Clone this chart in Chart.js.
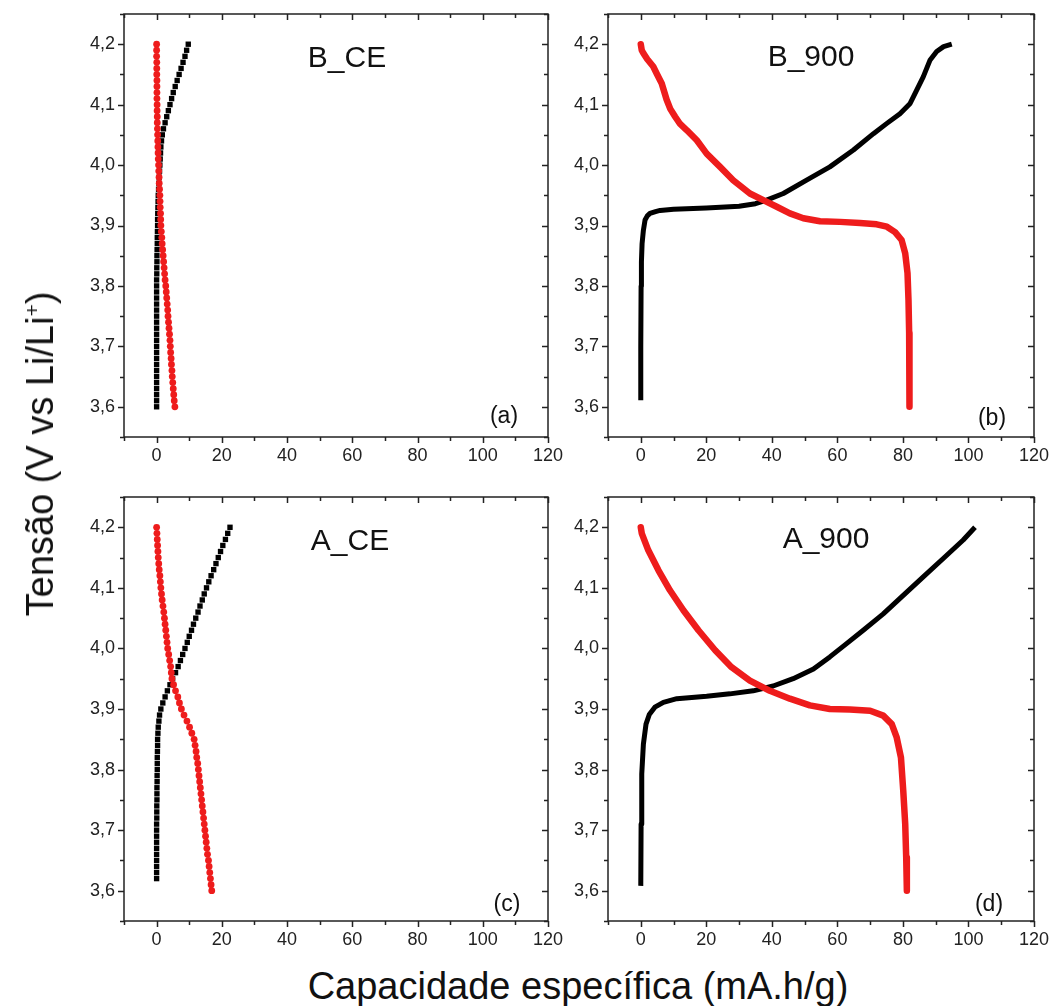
<!DOCTYPE html>
<html>
<head>
<meta charset="utf-8">
<script src="https://cdn.jsdelivr.net/npm/chart.js@4.4.1/dist/chart.umd.min.js"></script>
<style>
  body { margin: 0; width: 1053px; height: 1006px; position: relative; background: #fff; overflow: hidden;
         font-family: "Liberation Sans", Arial, sans-serif; color: #111; }
  canvas { position: absolute; }
  .txt { position: absolute; white-space: nowrap; line-height: 1; transform: translate(-50%, -50%); }
  .ttl { font-size: 30px; }
  .tag { font-size: 23px; }
  .axt { font-size: 38px; }
</style>
</head>
<body>
<canvas id="pa" width="506" height="477" style="left:60px;top:0px"></canvas>
<canvas id="pb" width="508" height="477" style="left:544px;top:0px"></canvas>
<canvas id="pc" width="506" height="478" style="left:60px;top:483px"></canvas>
<canvas id="pd" width="508" height="478" style="left:544px;top:483px"></canvas>

<div class="txt ttl" style="left:347px;top:57px">B_CE</div>
<div class="txt ttl" style="left:811px;top:56px">B_900</div>
<div class="txt ttl" style="left:350px;top:540px">A_CE</div>
<div class="txt ttl" style="left:826px;top:538px">A_900</div>
<div class="txt tag" style="left:504px;top:415px">(a)</div>
<div class="txt tag" style="left:992px;top:417px">(b)</div>
<div class="txt tag" style="left:507px;top:903px">(c)</div>
<div class="txt tag" style="left:989px;top:903px">(d)</div>
<div class="txt axt" style="left:40px;top:454px;transform:translate(-50%,-50%) rotate(-90deg)">Tensão (V vs Li/Li<sup style="font-size:0.55em">+</sup>)</div>
<div class="txt axt" style="left:578px;top:986px">Capacidade específica (mA.h/g)</div>

<script>
// --- Voltage steps used by the CE panels (V) ---
const vSteps = [4.20, 4.19, 4.18, 4.17, 4.16, 4.15, 4.14, 4.13, 4.12, 4.11,
                4.10, 4.09, 4.08, 4.07, 4.06, 4.05, 4.04, 4.03, 4.02, 4.01,
                4.00, 3.99, 3.98, 3.97, 3.96, 3.95, 3.94, 3.93, 3.92, 3.91,
                3.90, 3.89, 3.88, 3.87, 3.86, 3.85, 3.84, 3.83, 3.82, 3.81,
                3.80, 3.79, 3.78, 3.77, 3.76, 3.75, 3.74, 3.73, 3.72, 3.71,
                3.70, 3.69, 3.68, 3.67, 3.66, 3.65, 3.64, 3.63, 3.62, 3.61,
                3.60];

// --- (a) B_CE: capacity (mA.h/g) at each vStep ---
const bceCharge = [9.7, 9.2, 8.7, 8.1, 7.5, 6.9, 6.3, 5.7, 5.1, 4.6,
                   4.1, 3.6, 3.1, 2.6, 2.1, 1.75, 1.5, 1.3, 1.2, 1.1,
                   1.0, 0.9, 0.8, 0.7, 0.6, 0.5, 0.45, 0.4, 0.35, 0.3,
                   0.3, 0.25, 0.2, 0.2, 0.15, 0.1, 0.1, 0.05, 0.05,
                   0, 0, 0, 0, 0, 0, 0, 0, 0, 0, 0,
                   0, 0, 0, 0, 0, 0, 0, 0, 0, 0, 0, 0];
const bceDischarge = [0, 0, 0, 0.05, 0.05, 0.05, 0.1, 0.1, 0.1, 0.1,
                      0.15, 0.15, 0.2, 0.2, 0.25, 0.3, 0.35, 0.4, 0.45, 0.5,
                      0.6, 0.65, 0.75, 0.8, 0.9, 1.0, 1.05, 1.1, 1.2, 1.25,
                      1.3, 1.45, 1.6, 1.7, 1.85, 2.0, 2.15, 2.3, 2.45, 2.6,
                      2.8, 2.95, 3.1, 3.25, 3.4, 3.5, 3.65, 3.8, 3.95, 4.1,
                      4.2, 4.3, 4.45, 4.55, 4.7, 4.8, 4.95, 5.1, 5.25, 5.4,
                      5.6];

// --- (c) A_CE ---
const aceCharge = [22.5, 21.8, 21.1, 20.3, 19.6, 18.9, 18.2, 17.5, 16.7, 16.0,
                   15.3, 14.6, 14.0, 13.3, 12.7, 12.0, 11.3, 10.7, 10.0, 9.4,
                   8.7, 8.0, 7.3, 6.6, 5.8, 4.9, 4.1, 3.3, 2.6, 1.9,
                   1.3, 0.9, 0.7, 0.5, 0.4, 0.3, 0.3, 0.25, 0.2, 0.2,
                   0.2, 0.15, 0.15, 0.1, 0.1, 0.1, 0.05, 0.05, 0.05, 0,
                   0, 0, 0, 0, 0, 0, 0, 0, 0];
const aceDischarge = [0, 0.1, 0.2, 0.3, 0.4, 0.5, 0.65, 0.8, 1.0, 1.15,
                      1.3, 1.5, 1.7, 1.95, 2.2, 2.4, 2.6, 2.8, 3.0, 3.2,
                      3.4, 3.7, 4.0, 4.3, 4.5, 4.7, 5.2, 5.8, 6.5, 7.0,
                      7.6, 8.4, 9.3, 10.1, 10.8, 11.5, 11.8, 12.1, 12.3, 12.6,
                      12.8, 13.0, 13.2, 13.4, 13.6, 13.8, 14.0, 14.2, 14.4, 14.6,
                      14.8, 15.0, 15.2, 15.4, 15.6, 15.9, 16.1, 16.3, 16.5, 16.7,
                      16.9];

// --- (b) B_900 ---
const b900ChargeQ = [0, 0, 0.1, 0.2, 0.4, 0.8, 1.3, 2.0, 2.8, 4.5, 5.9, 10, 20, 30, 35, 38.4,
                     43.5, 50.6, 57.7, 64.9, 71.0, 75.1, 79.1, 82.2, 84.2, 86.2, 88.3, 90.3, 92.4, 94.9];
const b900ChargeV = [3.611, 3.70, 3.80, 3.84, 3.87, 3.892, 3.909, 3.916, 3.920, 3.923, 3.925, 3.927, 3.929, 3.932, 3.936, 3.942,
                     3.953, 3.975, 3.997, 4.025, 4.052, 4.069, 4.085, 4.102, 4.124, 4.146, 4.174, 4.188, 4.196, 4.200];
const b900DischQ = [0, 0.3, 0.8, 2.0, 3.8, 5.0, 6.4, 7.9, 9.0, 10.5, 12.0, 14.0, 17.1, 20.1, 24.2, 28.2, 33.3,
                    37.4, 41.5, 45.5, 49.6, 54.7, 60.8, 66.9, 72.0, 75.1, 77.6, 79.6, 80.7, 81.4, 81.7, 81.9, 82.0, 82.0];
const b900DischV = [4.200, 4.190, 4.185, 4.175, 4.163, 4.150, 4.135, 4.108, 4.093, 4.080, 4.068, 4.058, 4.041, 4.019, 3.997, 3.975, 3.953,
                    3.942, 3.931, 3.920, 3.912, 3.907, 3.906, 3.904, 3.902, 3.898, 3.889, 3.876, 3.854, 3.821, 3.777, 3.722, 3.667, 3.600];

// --- (d) A_900 ---
const a900ChargeQ = [0, 0.1, 0.3, 0.8, 1.6, 2.6, 4.3, 6.9, 11.0, 20.1, 27.2, 34.3, 40.4, 46.5,
                     52.7, 57.7, 62.8, 67.9, 74.0, 79.6, 86.2, 92.8, 98.4, 102.0];
const a900ChargeV = [3.608, 3.710, 3.793, 3.842, 3.875, 3.891, 3.903, 3.911, 3.917, 3.921, 3.925, 3.930, 3.938, 3.950,
                     3.966, 3.986, 4.008, 4.030, 4.057, 4.085, 4.118, 4.151, 4.179, 4.200];
const a900DischQ = [0, 0.3, 2.3, 5.4, 8.9, 13.0, 17.6, 22.7, 27.7, 33.3, 39.4, 45.5, 51.6, 57.7,
                    63.8, 70.0, 74.0, 76.6, 78.1, 79.4, 80.1, 80.7, 81.0, 81.2];
const a900DischV = [4.200, 4.190, 4.162, 4.129, 4.096, 4.063, 4.030, 3.997, 3.969, 3.947, 3.930, 3.917, 3.906, 3.900,
                    3.899, 3.897, 3.889, 3.875, 3.853, 3.820, 3.765, 3.710, 3.655, 3.600];

const BLACK = '#000000';
const RED = '#ee1c1c';
const AXIS = '#222';
const FONT = '"Liberation Sans", Arial, sans-serif';

function pairs(qs, vs) {
  return qs.map((q, i) => ({ x: q, y: vs[i] }));
}

// frame + Origin style ticks: out on left/bottom, in on top/right
const frameTicks = {
  id: 'frameTicks',
  afterDraw(chart) {
    const { ctx, chartArea: a, scales: { x, y } } = chart;
    ctx.save();
    ctx.strokeStyle = AXIS;
    ctx.lineWidth = 1.5;
    ctx.strokeRect(a.left, a.top, a.right - a.left, a.bottom - a.top);
    ctx.beginPath();
    x.ticks.forEach(t => {
      const px = Math.round(x.getPixelForValue(t.value)) + 0.5;
      const len = t.label ? 6 : 4;
      ctx.moveTo(px, a.bottom); ctx.lineTo(px, a.bottom + len);
      ctx.moveTo(px, a.top); ctx.lineTo(px, a.top + len);
    });
    y.ticks.forEach(t => {
      const py = Math.round(y.getPixelForValue(t.value)) + 0.5;
      const len = t.label ? 6 : 4;
      ctx.moveTo(a.left, py); ctx.lineTo(a.left - len, py);
      ctx.moveTo(a.right, py); ctx.lineTo(a.right - len, py);
    });
    ctx.stroke();
    ctx.restore();
  }
};

function makePanel(id, datasets) {
  return new Chart(document.getElementById(id), {
    type: 'scatter',
    data: { datasets },
    options: {
      responsive: false,
      animation: false,
      devicePixelRatio: 1,
      layout: { padding: { top: 14, right: 18, left: 0, bottom: 0 } },
      plugins: { legend: { display: false }, tooltip: { enabled: false } },
      scales: {
        x: {
          type: 'linear', min: -10, max: 120,
          afterFit: s => { s.height = 40; },
          border: { display: false },
          grid: { display: false, drawTicks: true, tickLength: 6 },
          ticks: {
            stepSize: 10, autoSkip: false, maxRotation: 0, padding: 2,
            color: AXIS, font: { family: FONT, size: 18 },
            callback: v => (v >= 0 && Math.round(v) % 20 === 0) ? String(Math.round(v)) : ''
          }
        },
        y: {
          type: 'linear', min: 3.55, max: 4.25,
          afterFit: s => { s.width = 64; },
          border: { display: false },
          grid: { display: false, drawTicks: true, tickLength: 6 },
          ticks: {
            stepSize: 0.05, autoSkip: false, padding: 3,
            color: AXIS, font: { family: FONT, size: 18 },
            callback: v => Math.round(v * 100) % 10 === 0 ? v.toFixed(1).replace('.', ',') : ''
          }
        }
      }
    },
    plugins: [frameTicks]
  });
}

// CE panels: discrete markers
function markerSets(charge, discharge) {
  return [
    { data: pairs(discharge, vSteps), showLine: false, pointStyle: 'circle', pointRadius: 3.4,
      pointBorderWidth: 0, pointBackgroundColor: RED, order: 0 },
    { data: pairs(charge, vSteps), showLine: false, pointStyle: 'rect', pointRadius: 3.8,
      pointBorderWidth: 0, pointBackgroundColor: BLACK, order: 1 }
  ];
}

// 900 panels: markers so dense they merge into a band
function bandSets(cq, cv, dq, dv) {
  return [
    { data: pairs(dq, dv), showLine: true, borderColor: RED, borderWidth: 6.5, borderCapStyle: 'round',
      borderJoinStyle: 'round', pointRadius: 0, tension: 0, order: 0 },
    { data: pairs(cq, cv), showLine: true, borderColor: BLACK, borderWidth: 5, borderCapStyle: 'butt',
      borderJoinStyle: 'round', pointRadius: 0, tension: 0, order: 1 }
  ];
}

makePanel('pa', markerSets(bceCharge, bceDischarge));
makePanel('pb', bandSets(b900ChargeQ, b900ChargeV, b900DischQ, b900DischV));
makePanel('pc', markerSets(aceCharge, aceDischarge));
makePanel('pd', bandSets(a900ChargeQ, a900ChargeV, a900DischQ, a900DischV));
</script>
</body>
</html>
